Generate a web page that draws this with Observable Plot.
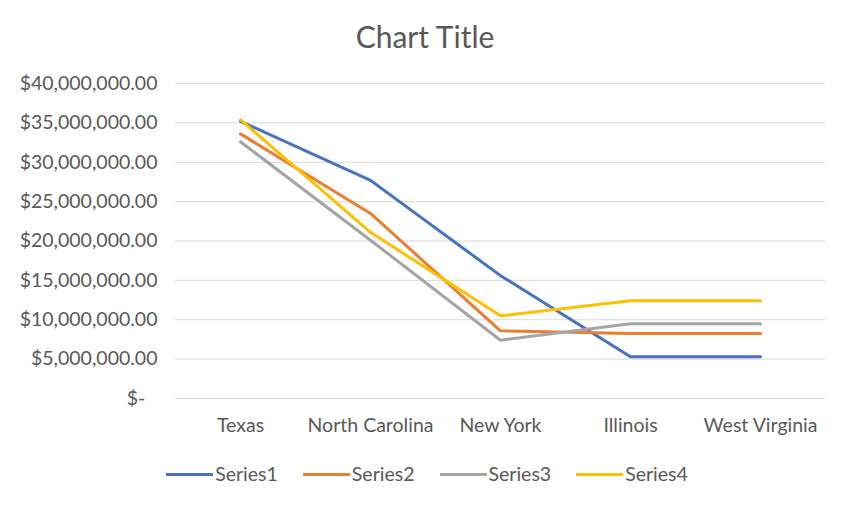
<!DOCTYPE html>
<html>
<head>
<meta charset="utf-8">
<script src="https://cdn.jsdelivr.net/npm/d3@7"></script>
<script src="https://cdn.jsdelivr.net/npm/@observablehq/plot@0.6"></script>
<style>
  html, body { margin: 0; padding: 0; background: #fff; }
  #chart {
    position: relative; width: 856px; height: 524px; overflow: hidden;
    font-family: Lato, "Open Sans", sans-serif; color: #595959; background: #fff;
  }
  #title {
    position: absolute; left: 0; width: 856px; top: 18px; text-align: center;
    font-size: 30px; line-height: 36px; color: #595959; padding-right: 6px; box-sizing: border-box;
  }
  #plot { position: absolute; left: 0; top: 60px; }
  #legend {
    position: absolute; left: 0; width: 856px; top: 461px;
    display: flex; justify-content: center; gap: 25px;
    font-size: 19.5px; line-height: 26px; padding-right: 2px; box-sizing: border-box;
  }
  .item { display: flex; align-items: center; }
  .swatch { width: 47px; height: 3px; margin-right: 2px; }
</style>
</head>
<body>
<div id="chart">
  <div id="title">Chart Title</div>
  <div id="plot"></div>
  <div id="legend"></div>
</div>
<script>
// States along the horizontal axis
const states = ["Texas", "North Carolina", "New York", "Illinois", "West Virginia"];

// Dollar amounts per state, one array per series
const series1 = [35200000, 27700000, 15600000, 5300000, 5300000];
const series2 = [33600000, 23500000, 8600000, 8250000, 8250000];
const series3 = [32600000, 20100000, 7400000, 9500000, 9500000];
const series4 = [35400000, 21100000, 10500000, 12400000, 12400000];

const seriesNames = ["Series1", "Series2", "Series3", "Series4"];
const seriesColors = ["#4472C4", "#ED7D31", "#A5A5A5", "#FFC000"];

// Value axis ticks
const yTicks = [0, 5000000, 10000000, 15000000, 20000000, 25000000, 30000000, 35000000, 40000000];

const rows = [];
[series1, series2, series3, series4].forEach((vals, si) => {
  vals.forEach((v, i) => rows.push({ state: states[i], value: v, series: seriesNames[si] }));
});

const money = d3.format(",.2f");
const fmt = v => v === 0 ? "$-\u2002\u2009" : "$" + money(v);

const chart = Plot.plot({
  width: 856,
  height: 380,
  marginLeft: 175,
  marginRight: 31,
  marginTop: 23,
  marginBottom: 42,
  style: { fontFamily: "Lato, 'Open Sans', sans-serif", fontSize: "19px", color: "#595959", background: "transparent" },
  x: { type: "point", domain: states, padding: 0.5, label: null },
  y: { domain: [0, 40000000], label: null },
  color: { domain: seriesNames, range: seriesColors },
  marks: [
    Plot.gridY(yTicks, { stroke: "#d9d9d9", strokeOpacity: 1, strokeWidth: 1 }),
    Plot.axisY(yTicks, { tickSize: 0, tickPadding: 18, tickFormat: fmt, fill: "#595959", fontSize: 19.5 }),
    Plot.axisX(states, { tickSize: 0, tickPadding: 20, fill: "#595959", fontSize: 19.5 }),
    Plot.line(rows, {
      x: "state", y: "value", z: "series", stroke: "series",
      strokeWidth: 3, strokeLinejoin: "round", strokeLinecap: "round"
    })
  ]
});
document.getElementById("plot").appendChild(chart);

// Legend under the plot
const legend = document.getElementById("legend");
seriesNames.forEach((name, i) => {
  const item = document.createElement("div");
  item.className = "item";
  const sw = document.createElement("div");
  sw.className = "swatch";
  sw.style.background = seriesColors[i];
  const label = document.createElement("span");
  label.textContent = name;
  item.appendChild(sw);
  item.appendChild(label);
  legend.appendChild(item);
});
</script>
</body>
</html>
